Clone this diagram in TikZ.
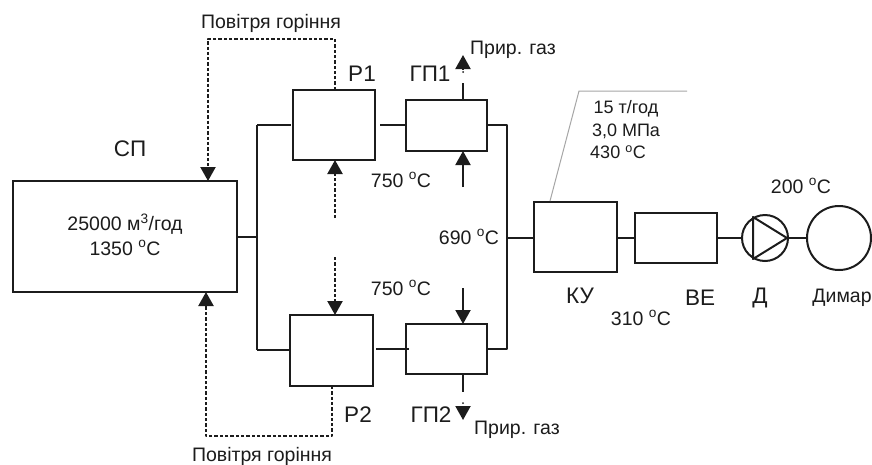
\documentclass[tikz,border=0pt]{standalone}
\usepackage{fontspec}
\setmainfont{Liberation Sans}
\usetikzlibrary{arrows.meta,calc}
\definecolor{ink}{HTML}{1C1C1C}
\tikzset{
 x=1pt,y=-1pt,
 unit/.style={draw=ink,line width=2pt,inner sep=0pt,outer sep=0pt,rectangle},
 round/.style={draw=ink,line width=2pt,inner sep=0pt,outer sep=0pt,circle},
 pipe/.style={draw=ink,line width=2pt,line join=round},
 air/.style={draw=ink,line width=2.2pt,dash pattern=on 3.3pt off 2pt,line join=round},
 tipped/.style={-{Triangle[length=14pt,width=15pt]}},
 lab/.style={text=ink,font=\fontsize{19.5}{22}\selectfont,inner sep=0pt},
 big/.style={text=ink,font=\fontsize{22.5}{25}\selectfont,inner sep=0pt},
 small/.style={text=ink,font=\fontsize{18}{21}\selectfont,inner sep=0pt},
}
\newcommand{\dgr}{\textsuperscript{o}C}
\begin{document}
\begin{tikzpicture}
\useasboundingbox (0,0) rectangle (872,464);
\fill[white] (0,0) rectangle (872,464);
% units
\node[unit,minimum width=224pt,minimum height=111pt] (sp) at (125,236.5) {};
\node[unit,minimum width=82pt,minimum height=70pt] (r1) at (334,125) {};
\node[unit,minimum width=81pt,minimum height=51pt] (gp1) at (446.5,125.5) {};
\node[unit,minimum width=83pt,minimum height=71pt] (r2) at (331.5,350.5) {};
\node[unit,minimum width=81pt,minimum height=50pt] (gp2) at (446.5,349) {};
\node[unit,minimum width=83pt,minimum height=70pt] (ku) at (575.5,237) {};
\node[unit,minimum width=82pt,minimum height=50pt] (ve) at (676,238) {};
\node[round,minimum size=46pt] (fan) at (765,238) {};
\node[round,minimum size=64pt] (stack) at (839,238) {};
% anchor points
\coordinate (busL) at (257,237);
\coordinate (busLt) at (257,125);
\coordinate (busLb) at (257,350);
\coordinate (busR) at (507,238);
\coordinate (busRt) at (507,125);
\coordinate (busRb) at (507,349);
\coordinate (a1) at (335,39);
\coordinate (a2) at (208,39);
\coordinate (b1) at (332,436);
\coordinate (b2) at (206,436);
\coordinate (c1) at (335,218);
\coordinate (c2) at (335,257);
\coordinate (d1a) at (463,83);
\coordinate (d1b) at (463,69);
\coordinate (d1c) at (463,187);
\coordinate (d2a) at (463,288);
\coordinate (d2b) at (463,392);
\coordinate (d2c) at (463,406);
\coordinate (g1) at (550,201);
\coordinate (g2) at (579,91);
\coordinate (g3) at (687,91);
\coordinate (t1) at (753,217);
\coordinate (t2) at (753,259);
\coordinate (t3) at (787,238);
% pipes
\draw[pipe] (sp.east |- busL) -- (busL);
\draw[pipe] (busLt) -- (busLb);
\draw[pipe] (busLt) -- (291,125);
\draw[pipe] (busLb) -- (r2.west |- busLb);
\draw[pipe] (380,125) -- (gp1.west |- 0,125);
\draw[pipe] (376,349) -- (409,349);
\draw[pipe] (gp1.east |- busRt) -- (busRt) -- (busRb) -- (gp2.east);
\draw[pipe] (busR) -- (ku.west |- busR);
\draw[pipe] (ku.east |- ve.west) -- (ve.west);
\draw[pipe] (ve.east) -- (fan.west);
\draw[pipe] (fan.east) -- (stack.west);
% fan triangle
\draw[pipe] (t1) -- (t3) -- (t2) -- cycle;
% air lines
\draw[air] (r1.north -| a1) -- (a1) -- (a2) -- (a2 |- 0,168);
\draw[air,tipped] (a2 |- 0,167) -- (a2 |- sp.north);
\draw[air] (r2.south -| b1) -- (b1) -- (b2) -- (b2 |- 0,306);
\draw[air,tipped] (b2 |- 0,307) -- (b2 |- sp.south);
\draw[air,tipped] (c1) -- (c1 |- r1.south);
\draw[air,tipped] (c2) -- (c2 |- r2.north);
% gas lines
\draw[pipe] (gp1.north -| d1a) -- (d1a);
\fill[ink] (463,72) circle (1pt);
\draw[pipe,tipped,shorten >=0pt] (d1b) -- (463,55);
\draw[pipe,tipped] (d1c) -- (d1c |- gp1.south);
\draw[pipe,tipped] (d2a) -- (d2a |- gp2.north);
\draw[pipe] (gp2.south -| d2b) -- (d2b);
\fill[ink] (463,403) circle (1pt);
\draw[pipe,tipped] (d2c) -- (463,420);
% grey leader
\draw[gray!70,line width=1pt] (g1) -- (g2) -- (g3);
% labels
\node[lab] (l1) at (271,23) {Повітря горіння};
\node[lab] (l2) at (262,456) {Повітря горіння};
\node[big] (l3) at (130,149) {СП};
\node[lab] (l4a) at (125,224) {25000 м\textsuperscript{3}/год};
\node[lab] (l4b) at (125,248) {1350 \dgr};
\node[big] (l5) at (362,74) {Р1};
\node[big] (l6) at (430,74) {ГП1};
\node[lab,anchor=west] (l7) at (470,50) {Прир. газ};
\node[big] (l8) at (358,415) {Р2};
\node[big] (l9) at (431,415) {ГП2};
\node[lab,anchor=west] (l10) at (474,430) {Прир. газ};
\node[lab] (l11) at (401,180) {750 \dgr};
\node[lab] (l12) at (401,288) {750 \dgr};
\node[lab] (l13) at (469,237) {690 \dgr};
\node[big] (l14) at (580,296) {КУ};
\node[big] (l15) at (700,298) {ВЕ};
\node[big] (l16) at (760,298) {Д};
\node[lab] (l17) at (842,298) {Димар};
\node[lab] (l18) at (641,318) {310 \dgr};
\node[lab] (l19) at (801,186) {200 \dgr};
\node[small] (l20) at (626,109) {15 т/год};
\node[small] (l21) at (626,131) {3,0 МПа};
\node[small] (l22) at (618,152) {430 \dgr};
\end{tikzpicture}
\end{document}
